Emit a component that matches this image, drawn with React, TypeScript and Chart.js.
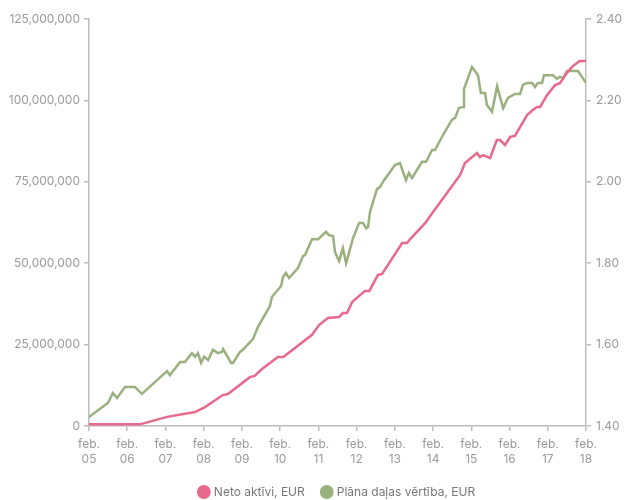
import React, { useEffect, useRef } from "react";
import { Chart, registerables } from "chart.js";

Chart.register(...registerables);

// Months since Feb 2005 and values
const netMonths = [0, 16, 24.5, 33.3, 36.4, 42, 43.6, 50.5, 52, 54.3, 59.3, 61, 70, 72.2, 75, 78.5, 79.7, 81, 82.6, 86.6, 88, 90.7, 92, 98.3, 99.8, 100.8, 105.5, 108, 116.5, 118, 121.8, 122.7, 123.7, 125.9, 128, 129, 130.6, 132.2, 133.7, 137.5, 139.4, 140.6, 141.6, 143.8, 146.3, 147.8, 150, 151.6, 154, 156];
const netAssets = [0.5, 0.5, 2.8, 4.3, 5.8, 9.5, 9.8, 15.0, 15.4, 17.5, 21.2, 21.2, 28.0, 31.0, 33.2, 33.5, 34.7, 34.7, 38.1, 41.5, 41.5, 46.4, 46.7, 56.2, 56.2, 57.4, 62.3, 65.7, 77.1, 80.8, 83.8, 82.6, 83.2, 82.3, 87.8, 87.8, 86.3, 88.8, 89.1, 95.5, 97.1, 98.0, 98.0, 101.7, 104.7, 105.3, 108.4, 110.3, 112.1, 112.1];

const navMonths = [0, 6, 7.5, 8.8, 11.3, 14.4, 16.6, 24.5, 25.4, 28.6, 30.1, 32.3, 33.3, 34.2, 35.2, 36.1, 37.4, 38.9, 40.5, 41.7, 42.1, 44.6, 45.2, 47.4, 48.3, 51.5, 53, 56.8, 57.4, 60.3, 60.9, 61.8, 62.8, 65.6, 67.2, 67.8, 70, 71.9, 74.4, 75.3, 76.6, 77.2, 78.5, 79.7, 80.7, 82.9, 84.8, 86, 87, 87.6, 88.2, 90.4, 91.3, 92.6, 94.5, 96, 97.6, 99.5, 100.4, 101.4, 104.5, 105.8, 107.7, 108.6, 111.1, 113.9, 114.9, 116.1, 117.4, 117.7, 120.2, 122.1, 123, 124.3, 124.9, 126.5, 128.1, 128.7, 130, 131.5, 133.7, 135.3, 136.2, 137.5, 139.1, 140, 140.9, 142.2, 142.8, 145.6, 146.9, 147.8, 148.8, 150, 153.5, 156];
const navValues = [1.422, 1.457, 1.481, 1.469, 1.496, 1.496, 1.479, 1.535, 1.525, 1.557, 1.557, 1.579, 1.570, 1.579, 1.555, 1.570, 1.562, 1.587, 1.579, 1.582, 1.589, 1.555, 1.555, 1.582, 1.587, 1.614, 1.643, 1.695, 1.717, 1.744, 1.766, 1.776, 1.764, 1.788, 1.818, 1.820, 1.859, 1.859, 1.877, 1.869, 1.867, 1.828, 1.805, 1.837, 1.800, 1.862, 1.899, 1.899, 1.886, 1.889, 1.926, 1.982, 1.987, 2.004, 2.024, 2.041, 2.046, 2.004, 2.022, 2.009, 2.049, 2.049, 2.078, 2.078, 2.115, 2.152, 2.157, 2.181, 2.184, 2.228, 2.282, 2.262, 2.218, 2.218, 2.189, 2.172, 2.235, 2.218, 2.181, 2.206, 2.216, 2.216, 2.238, 2.243, 2.243, 2.233, 2.243, 2.243, 2.262, 2.262, 2.253, 2.258, 2.255, 2.272, 2.272, 2.243];

const yearLabels = ["05", "06", "07", "08", "09", "10", "11", "12", "13", "14", "15", "16", "17", "18"];
const seriesNames = ["Neto aktīvi, EUR", "Plāna daļas vērtība, EUR"];

const PINK = "#e8698b";
const GREEN = "#9bb07f";
const AXIS = "#bdbdbd";
const TEXT = "#9a9a9a";
const FONT = "Inter, 'Open Sans', sans-serif";

export default function App() {
  const ref = useRef<HTMLCanvasElement | null>(null);
  useEffect(() => {
    if (!ref.current) return;
    const chart = new Chart(ref.current, {
      type: "line",
      data: {
        datasets: [
          {
            label: seriesNames[0],
            data: netMonths.map((m, i) => ({ x: m, y: netAssets[i] * 1e6 })),
            borderColor: PINK,
            backgroundColor: PINK,
            borderWidth: 2.5,
            pointRadius: 0,
            pointStyle: "circle",
            tension: 0,
            yAxisID: "y",
          },
          {
            label: seriesNames[1],
            data: navMonths.map((m, i) => ({ x: m, y: navValues[i] })),
            borderColor: GREEN,
            backgroundColor: GREEN,
            borderWidth: 2.5,
            pointRadius: 0,
            pointStyle: "circle",
            tension: 0,
            yAxisID: "y1",
          },
        ],
      },
      options: {
        animation: false,
        responsive: false,
        maintainAspectRatio: false,
        layout: { padding: { top: 19, bottom: -8, left: 0, right: 0 } },
        plugins: {
          tooltip: { enabled: false },
          legend: {
            position: "bottom",
            fullSize: false,
            labels: {
              usePointStyle: true,
              boxWidth: 8,
              boxHeight: 8,
              padding: 18,
              color: "#777",
              font: { family: FONT, size: 12 },
            },
          },
        },
        scales: {
          x: {
            type: "linear",
            min: 0,
            max: 156,
            afterFit: (s: any) => { s.height = 42; },
            afterBuildTicks: (s: any) => {
              s.ticks = yearLabels.map((_, i) => ({ value: i * 12 }));
            },
            ticks: {
              color: TEXT,
              padding: 6,
              maxRotation: 0,
              autoSkip: false,
              font: { family: FONT, size: 12, lineHeight: 1.25 },
              callback: (v: any) => ["feb.", yearLabels[Math.round(Number(v) / 12)]],
            },
            grid: { drawOnChartArea: false, drawTicks: true, tickLength: 5, color: AXIS, lineWidth: 1.5 },
            border: { color: AXIS, width: 1.5 },
          },
          y: {
            position: "left",
            min: 0,
            max: 125000000,
            afterFit: (s: any) => { s.width = 89; },
            afterBuildTicks: (s: any) => {
              s.ticks = [0, 1, 2, 3, 4, 5].map((i) => ({ value: i * 25000000 }));
            },
            ticks: {
              color: TEXT,
              padding: 4,
              font: { family: FONT, size: 12 },
              callback: (v: any) => Number(v).toLocaleString("en-US"),
            },
            grid: { drawOnChartArea: false, drawTicks: true, tickLength: 5, color: AXIS, lineWidth: 1.5 },
            border: { color: AXIS, width: 1.5 },
          },
          y1: {
            position: "right",
            min: 1.4,
            max: 2.4,
            afterFit: (s: any) => { s.width = 38; },
            afterBuildTicks: (s: any) => {
              s.ticks = [0, 1, 2, 3, 4, 5].map((i) => ({ value: 1.4 + i * 0.2 }));
            },
            ticks: {
              color: TEXT,
              padding: 5,
              font: { family: FONT, size: 12 },
              callback: (v: any) => Number(v).toFixed(2),
            },
            grid: { drawOnChartArea: false, drawTicks: true, tickLength: 5, color: AXIS, lineWidth: 1.5 },
            border: { color: AXIS, width: 1.5 },
          },
        },
      },
    });
    return () => chart.destroy();
  }, []);
  return (
    <div style={{ position: "fixed", left: 0, top: 0, width: 624, height: 500, background: "#fff" }}>
      <canvas ref={ref} width={624} height={500} />
    </div>
  );
}
